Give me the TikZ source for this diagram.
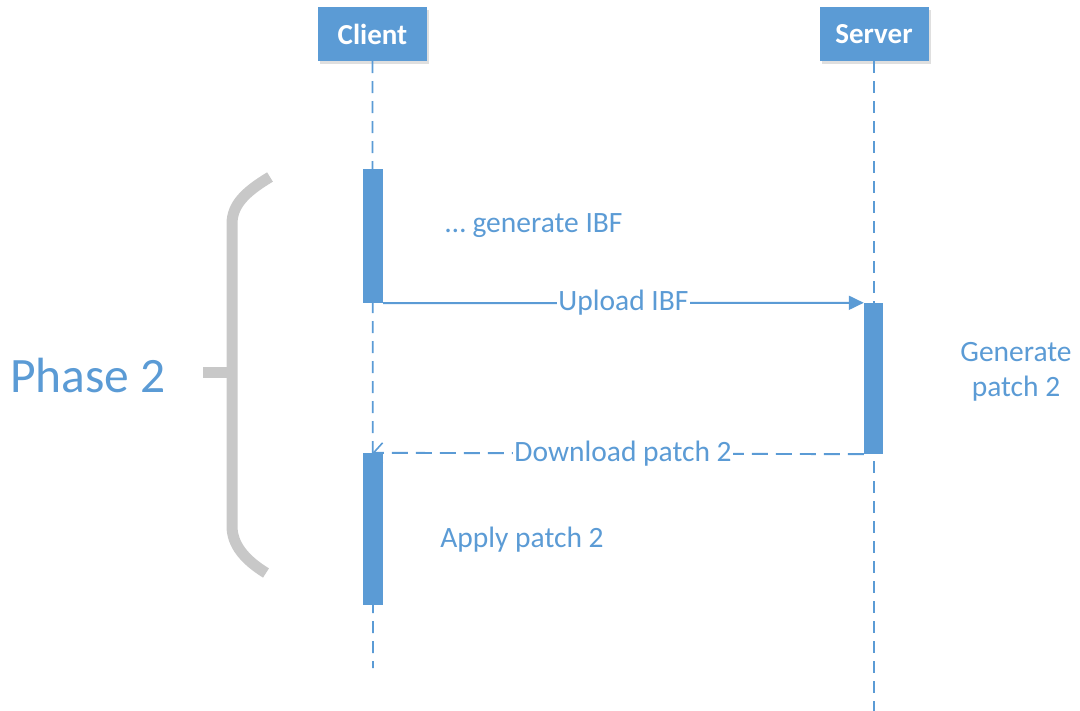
\documentclass[tikz,border=0pt]{standalone}
\usepackage{fontspec}
\setmainfont{Carlito}
\usetikzlibrary{arrows.meta,shadows,calc}
\definecolor{officeblue}{HTML}{5B9BD5}
\definecolor{bracegray}{HTML}{C8C8C8}
\begin{document}
\begin{tikzpicture}[x=1pt,y=-1pt,
  head/.style={fill=officeblue, text=white, font=\fontsize{29}{33}\selectfont\bfseries,
    minimum width=109pt, minimum height=54pt, inner sep=0pt,
    drop shadow={opacity=0.25, shadow xshift=2pt, shadow yshift=-3pt}},
  life/.style={officeblue, line width=1.7pt, dash pattern=on 12pt off 8pt},
  actbar/.style={fill=officeblue, draw=none, minimum width=20pt, inner sep=0pt},
  msg/.style={officeblue, line width=1.9pt, -{Triangle[length=15pt,width=14pt]}},
  reply/.style={officeblue, line width=1.9pt, dash pattern=on 16pt off 8pt,
    -{Straight Barb[length=9pt,width=20pt,line width=1.6pt]}},
  lbl/.style={text=officeblue, font=\fontsize{29.5}{35}\selectfont, inner sep=1pt},
  brace/.style={bracegray, line width=11pt}
]
\useasboundingbox (0,0) rectangle (1080,711);

% participants
\node[head] (client) at (372.5,34) {Client};
\node[head] (server) at (874,34) {Server};

% lifelines
\coordinate (cend) at (373,668);
\coordinate (send) at (874,711);
\draw[life] (client.south) -- (cend);
\draw[life] (server.south) -- (send);

% activation bars
\node[actbar, minimum height=134pt] (c1) at (373,236) {};
\node[actbar, minimum height=152pt] (c2) at (373,529) {};
\node[actbar, minimum height=151pt, minimum width=19pt] (s1) at (873.5,378.5) {};

% messages
\draw[msg] (c1.south east) -- (s1.north west)
  node[lbl, fill=white, pos=0.5] {Upload IBF};
\coordinate (dl) at (client |- c2.north);
\draw[reply] (s1.south west) -- (dl)
  node[lbl, fill=white, pos=0.49] {Download patch 2};

% notes
\node[lbl] (gen) at (534,226) {\dots{} generate IBF};
\node[lbl] (apply) at (522,540) {Apply patch 2};
\node[lbl, align=center, font=\fontsize{29.5}{35}\selectfont] (gp) at (1016,372) {Generate\\patch 2};

% phase brace
\draw[brace] (270,177) .. controls (245,192) and (232,205) .. (232,224)
  -- (232,526) .. controls (232,545) and (245,560) .. (266,573);
\draw[brace] (203,373) -- (232,373);
\node[text=officeblue, font=\fontsize{49.5}{56}\selectfont, inner sep=0pt] (phase) at (88,375) {Phase 2};
\end{tikzpicture}
\end{document}
